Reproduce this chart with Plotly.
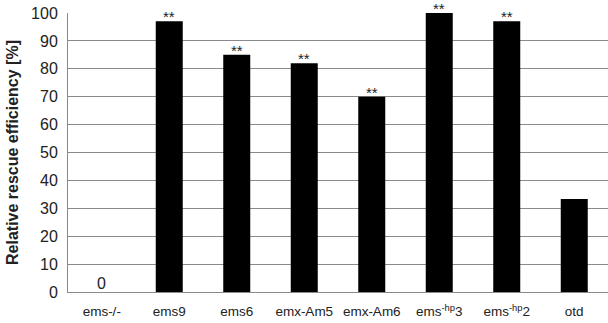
import plotly.graph_objects as go

categories = ["ems-/-", "ems9", "ems6", "emx-Am5", "emx-Am6", "ems<sup>-hp</sup>3", "ems<sup>-hp</sup>2", "otd"]
values = [0, 97, 85, 82, 70, 100, 97, 33.3]
labels = ["0", "**", "**", "**", "**", "**", "**", ""]
y_ticks = list(range(0, 101, 10))

fig = go.Figure(go.Bar(
    x=categories, y=values,
    marker=dict(color="black", line=dict(width=0)),
    cliponaxis=False, hoverinfo="skip",
))
for c, v, t in zip(categories, values, labels):
    if t:
        fig.add_annotation(
            x=c, y=v, text=t, showarrow=False, yanchor="bottom",
            yshift=-6 if t == "**" else -2,
            font=dict(size=15 if t == "**" else 16, color="#222", family="Liberation Sans, Arial"),
        )
fig.update_layout(
    width=608, height=323,
    margin=dict(l=68, r=0, t=13, b=31),
    paper_bgcolor="white", plot_bgcolor="white",
    bargap=0.6, showlegend=False,
    font=dict(family="Liberation Sans, Arial", color="#222"),
)
fig.update_yaxes(
    range=[0, 100], tickvals=y_ticks, showgrid=True, gridcolor="#8a8a8a", gridwidth=1,
    showline=True, linecolor="#8a8a8a", linewidth=1, zeroline=False,
    tickfont=dict(size=16), ticks="", ticklabelstandoff=6, automargin=False,
    title=dict(text="<b>Relative rescue efficiency [%]</b>", font=dict(size=16), standoff=8),
)
fig.update_xaxes(
    showline=True, linecolor="#8a8a8a", linewidth=1, tickfont=dict(size=13.5), ticks="",
    automargin=False, ticklabelstandoff=7,
)
fig.write_html("out.html", config={"displayModeBar": False},
               post_script="document.body.style.margin='0';")
